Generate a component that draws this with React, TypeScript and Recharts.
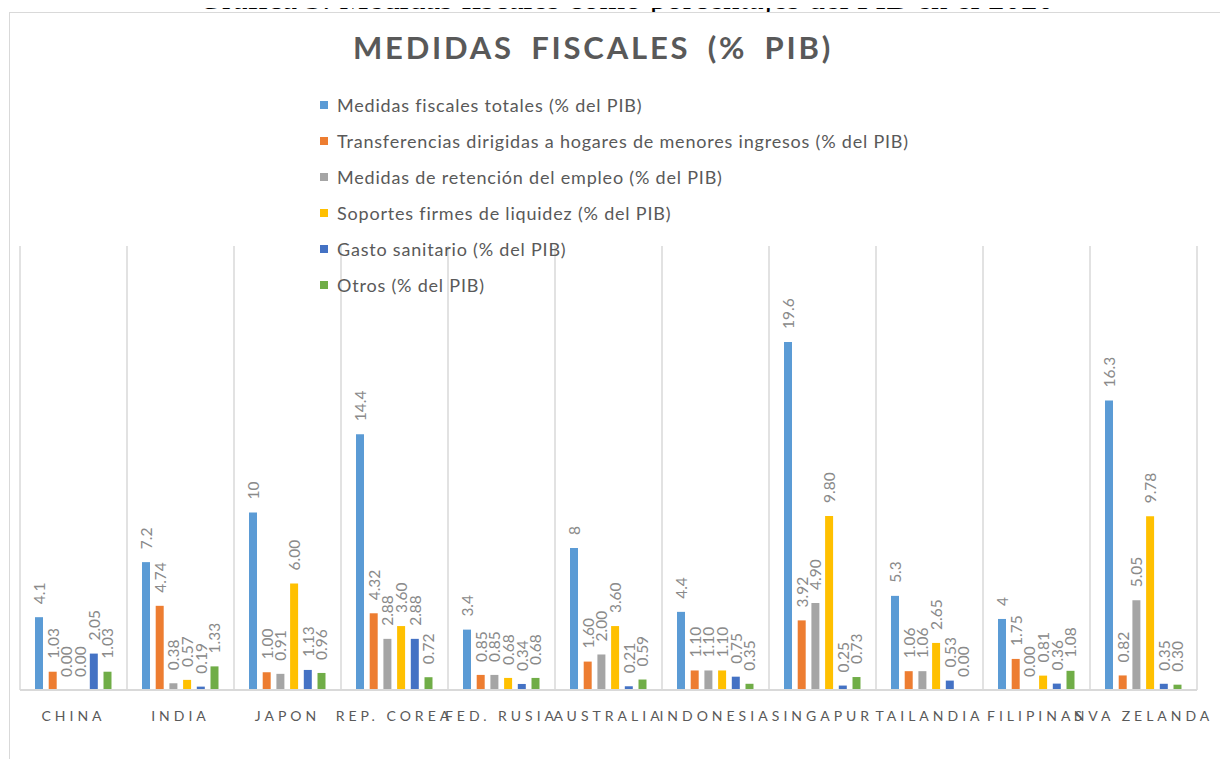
import React from 'react';
import { BarChart, Bar, XAxis, YAxis, CartesianGrid, LabelList, Legend } from 'recharts';

const categories = ['CHINA', 'INDIA', 'JAPON', 'REP. COREA', 'FED. RUSIA', 'AUSTRALIA', 'INDONESIA', 'SINGAPUR', 'TAILANDIA', 'FILIPINAS', 'NVA ZELANDA'];

const totales = [4.1, 7.2, 10, 14.4, 3.4, 8, 4.4, 19.6, 5.3, 4, 16.3];
const transferencias = [1.03, 4.74, 1.0, 4.32, 0.85, 1.6, 1.1, 3.92, 1.06, 1.75, 0.82];
const retencion = [0.0, 0.38, 0.91, 2.88, 0.85, 2.0, 1.1, 4.9, 1.06, 0.0, 5.05];
const liquidez = [0.0, 0.57, 6.0, 3.6, 0.68, 3.6, 1.1, 9.8, 2.65, 0.81, 9.78];
const sanitario = [2.05, 0.19, 1.13, 2.88, 0.34, 0.21, 0.75, 0.25, 0.53, 0.36, 0.35];
const otros = [1.03, 1.33, 0.96, 0.72, 0.68, 0.59, 0.35, 0.73, 0.0, 1.08, 0.3];

const seriesNames = [
  'Medidas fiscales totales (% del PIB)',
  'Transferencias dirigidas a hogares de menores ingresos (% del PIB)',
  'Medidas de retención del empleo (% del PIB)',
  'Soportes firmes de liquidez (% del PIB)',
  'Gasto sanitario (% del PIB)',
  'Otros (% del PIB)',
];
const seriesKeys = ['totales', 'transferencias', 'retencion', 'liquidez', 'sanitario', 'otros'];
const seriesColors = ['#5B9BD5', '#ED7D31', '#A5A5A5', '#FFC000', '#4472C4', '#70AD47'];
const seriesValues = [totales, transferencias, retencion, liquidez, sanitario, otros];

const data = categories.map((name, i) => {
  const row: any = { name };
  seriesKeys.forEach((k, s) => {
    row[k] = seriesValues[s][i];
  });
  return row;
});

const FONT = 'Lato, "Open Sans", sans-serif';

const makeLabel = (fmt: (v: number) => string) => (props: any) => {
  const { x, y, width, value } = props;
  const cx = Number(x) + Number(width) / 2;
  const ty = Number(y) - 13;
  return (
    <text
      x={cx}
      y={ty}
      transform={`rotate(-90 ${cx} ${ty})`}
      textAnchor="start"
      dominantBaseline="central"
      fill="#8a8a8a"
      fontSize={15.5}
      fontFamily={FONT}
    >
      {fmt(Number(value))}
    </text>
  );
};

const rawFmt = (v: number) => String(v);
const fixedFmt = (v: number) => v.toFixed(2);

const CategoryTick = (props: any) => {
  const { x, y, payload } = props;
  return (
    <text
      x={x}
      y={y + 17}
      textAnchor="middle"
      dominantBaseline="central"
      fill="#595959"
      fontSize={14}
      fontFamily={FONT}
      letterSpacing={4}
    >
      {payload.value}
    </text>
  );
};

const LegendContent = () => (
  <div style={{ fontFamily: FONT, fontSize: 18, letterSpacing: 0.8, color: '#595959' }}>
    {seriesNames.map((n, i) => (
      <div key={n} style={{ height: 36, lineHeight: '36px', display: 'flex', alignItems: 'center', whiteSpace: 'nowrap' }}>
        <span style={{ display: 'inline-block', width: 8, height: 8, background: seriesColors[i], marginRight: 9 }} />
        <span>{n}</span>
      </div>
    ))}
  </div>
);

const zeroMin = (v: any) => (Number(v) === 0 ? 0.01 : 0);

export default function App() {
  const n = categories.length;
  return (
    <div style={{ position: 'relative', width: 1220, height: 751 }}>
      <div
        style={{
          position: 'absolute',
          top: -26,
          left: 18,
          width: 1200,
          textAlign: 'center',
          fontFamily: '"Liberation Serif", serif',
          fontSize: 33,
          lineHeight: '33px',
          color: '#000',
          whiteSpace: 'nowrap',
        }}
      >
        Gráfica 3: Medidas fiscales como porcentajes del PIB en el 2020
      </div>
      <div style={{ position: 'absolute', top: 0, left: 0, width: 1220, height: 751, overflow: 'hidden' }}>
        <div
          style={{
            position: 'absolute',
            left: 1,
            top: 4,
            width: 1300,
            height: 900,
            border: '1px solid #d9d9d9',
            background: '#fff',
          }}
        />
        <div
          style={{
            position: 'absolute',
            top: 24,
            left: 185,
            width: 800,
            textAlign: 'center',
            fontFamily: FONT,
            fontWeight: 700,
            fontSize: 31,
            lineHeight: '31px',
            letterSpacing: 2.8,
            wordSpacing: 7,
            color: '#595959',
            whiteSpace: 'nowrap',
          }}
        >
          MEDIDAS FISCALES (% PIB)
        </div>
        <div style={{ position: 'absolute', top: 0, left: 0 }}>
          <BarChart
            width={1220}
            height={751}
            data={data}
            margin={{ top: 238, right: 31, bottom: 39, left: 12 }}
            barSize={8}
            barGap={5.7}
          >
            <CartesianGrid
              horizontal={false}
              vertical
              stroke="#d9d9d9"
              strokeWidth={1.5}
              verticalCoordinatesGenerator={({ offset }: any) => {
                const pts: number[] = [];
                for (let i = 0; i <= n; i++) pts.push(offset.left + (i * offset.width) / n);
                return pts;
              }}
            />
            <XAxis
              dataKey="name"
              interval={0}
              height={30}
              tickLine={false}
              axisLine={{ stroke: '#d9d9d9', strokeWidth: 2 }}
              tick={<CategoryTick />}
            />
            <YAxis hide domain={[0, 25]} />
            <Legend
              layout="vertical"
              align="center"
              verticalAlign="middle"
              wrapperStyle={{ top: 79, left: 312, width: 760 }}
              content={<LegendContent />}
            />
            {seriesKeys.map((k, s) => (
              <Bar
                key={k}
                dataKey={k}
                name={seriesNames[s]}
                fill={seriesColors[s]}
                minPointSize={zeroMin as any}
                isAnimationActive={false}
              >
                <LabelList dataKey={k} content={makeLabel(s === 0 ? rawFmt : fixedFmt)} />
              </Bar>
            ))}
          </BarChart>
        </div>
      </div>
    </div>
  );
}
